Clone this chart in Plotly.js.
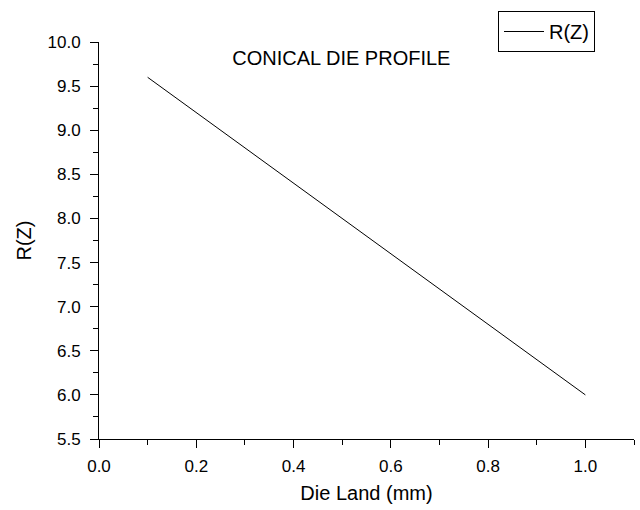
<!DOCTYPE html>
<html>
<head>
<meta charset="utf-8">
<script src="https://cdn.plot.ly/plotly-3.0.1.min.js"></script>
<style>html,body{margin:0;padding:0;background:#fff;}#chart{width:640px;height:510px;}</style>
</head>
<body>
<div id="chart"></div>
<script>
const dieLand = [0.1, 1.0];
const radius = [9.6, 6.0];
const seriesName = "R(Z)";
const chartTitle = "CONICAL DIE PROFILE";
const xTitle = "Die Land (mm)";
const yTitle = "R(Z)";

const font = "Arial, 'Liberation Sans', sans-serif";
const trace = {
  x: dieLand, y: radius, mode: 'lines', name: seriesName,
  line: {color: '#000', width: 1}
};
const layout = {
  width: 640, height: 510,
  margin: {l: 99, r: 6, t: 42, b: 71, autoexpand: false},
  paper_bgcolor: '#fff', plot_bgcolor: '#fff',
  font: {family: font, color: '#000', size: 17},
  title: {text: chartTitle, font: {size: 20, family: font, color: '#000'},
          xref: 'paper', x: 0.453, xanchor: 'center', yref: 'container', y: 1 - 58/510, yanchor: 'middle'},
  showlegend: true,
  legend: {x: 498/640, y: 1 - 11/510, xref: 'container', yref: 'container', xanchor: 'left', yanchor: 'top',
           bordercolor: '#000', borderwidth: 1, bgcolor: '#fff', font: {size: 20, family: font},
           itemwidth: 40, tracegroupgap: 0},
  xaxis: {
    range: [0, 1.1], dtick: 0.2, tick0: 0, tickformat: '.1f',
    showgrid: false, zeroline: false, showline: true, linecolor: '#000', linewidth: 1,
    ticks: 'outside', ticklen: 8, tickwidth: 1, tickcolor: '#000', ticklabelstandoff: 4,
    minor: {dtick: 0.1, ticks: 'outside', ticklen: 5, tickwidth: 1, tickcolor: '#000', showgrid: false},
    tickfont: {size: 17},
    title: {text: xTitle, font: {size: 20}, standoff: 10}
  },
  yaxis: {
    range: [5.5, 10.0], dtick: 0.5, tick0: 5.5, tickformat: '.1f',
    showgrid: false, zeroline: false, showline: true, linecolor: '#000', linewidth: 1,
    ticks: 'outside', ticklen: 8, tickwidth: 1, tickcolor: '#000', ticklabelstandoff: 6,
    minor: {dtick: 0.25, ticks: 'outside', ticklen: 5, tickwidth: 1, tickcolor: '#000', showgrid: false},
    tickfont: {size: 17},
    title: {text: yTitle, font: {size: 20}, standoff: 10}
  }
};
Plotly.newPlot('chart', [trace], layout, {displayModeBar: false, staticPlot: true});
</script>
</body>
</html>
